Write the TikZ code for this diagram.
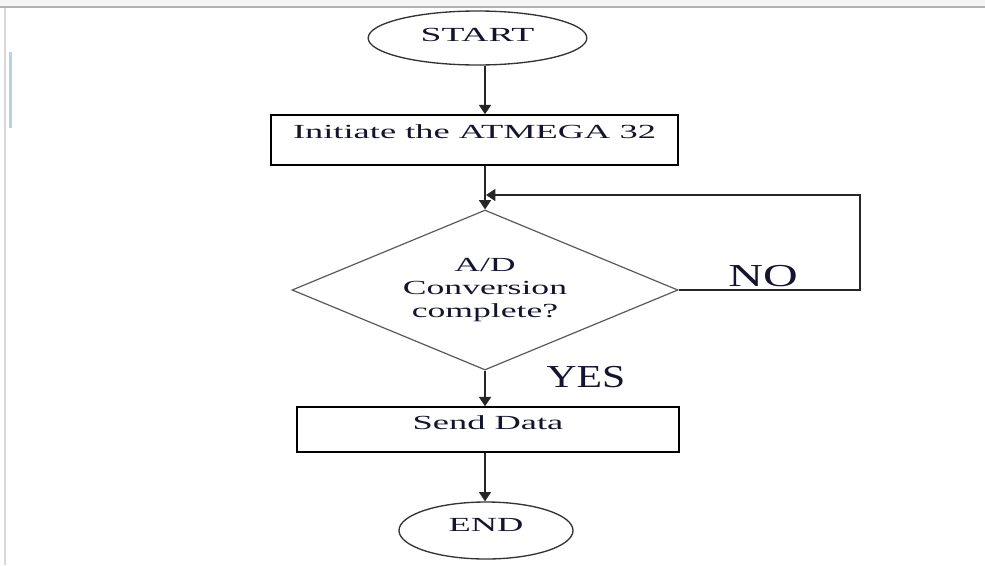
\documentclass[tikz,border=0pt]{standalone}
\usepackage{fontspec}
\setmainfont{Liberation Serif}
\usetikzlibrary{shapes.geometric,arrows.meta}
\newcommand{\sx}[2][1.82]{\scalebox{#1}[1]{#2}}
\definecolor{barblue}{HTML}{B5D1EE}
\definecolor{inkc}{HTML}{14142E}
\begin{document}
\begin{tikzpicture}[x=0.75pt,y=-0.75pt,
  txt/.style={font=\fontsize{15}{16.9}\selectfont, text=inkc},
  term/.style={ellipse, draw=black!80, line width=1pt, inner sep=0pt, txt, text height=10pt},
  procbox/.style={rectangle, draw=black, line width=1.1pt, inner sep=0pt, txt, text height=10pt},
  decision/.style={diamond, draw=black!65, line width=0.9pt, inner sep=0pt, aspect=2.4, txt, align=center},
  flow/.style={draw=black!85, line width=1.2pt, -{Triangle[length=7pt,width=9pt]}},
  lbl/.style={font=\fontsize{24}{26}\selectfont, inner sep=0pt, text=inkc}
]
\useasboundingbox (0,0) rectangle (985,565);
% screenshot frame
\fill[black!4] (0,0) rectangle (985,6);
\draw[black!30, line width=1.2pt] (0,7) -- (985,7);
\draw[black!15, line width=0.8pt] (5,8) -- (5,565);
\fill[barblue] (9,52) rectangle (12,128);

% nodes
\node[term, minimum width=164pt, minimum height=40.5pt, text depth=5.2pt] (start) at (477.5,38) {\sx[1.88]{START}};
\node[procbox, minimum width=305.25pt, minimum height=37.5pt, text depth=12.8pt] (init) at (474.5,140) {\sx{Initiate the ATMEGA 32}};
\node[decision, minimum width=289.5pt, minimum height=120pt] (dec) at (485,290) {\sx[1.78]{A/D}\\\sx[1.78]{Conversion}\\\sx[1.78]{complete?}};
\node[procbox, minimum width=286.5pt, minimum height=33.75pt, text depth=10.5pt] (send) at (488,429.5) {\sx{Send Data}};
\node[term, minimum width=130.5pt, minimum height=42.75pt, text depth=9pt] (end) at (486,530.5) {\sx{END}};

\node[lbl] (no) at (763,276) {\sx[1.5]{NO}};
\node[lbl] (yes) at (586,377) {\sx[1.3]{YES}};

\coordinate (ax) at (485,0);
\coordinate (loopR) at (860,195);
\coordinate (loopIn) at (486,195);

% connectors
\draw[flow] (start.south -| ax) -- (init.north -| ax);
\draw[flow] (init.south -| ax) -- (dec.north);
\draw[flow] (dec.south) -- (send.north -| dec.south);
\draw[flow] (send.south -| dec.south) -- (end.north -| dec.south);
\draw[flow, line width=1pt] (dec.east) -| (loopR) -- (loopIn);
\end{tikzpicture}
\end{document}
